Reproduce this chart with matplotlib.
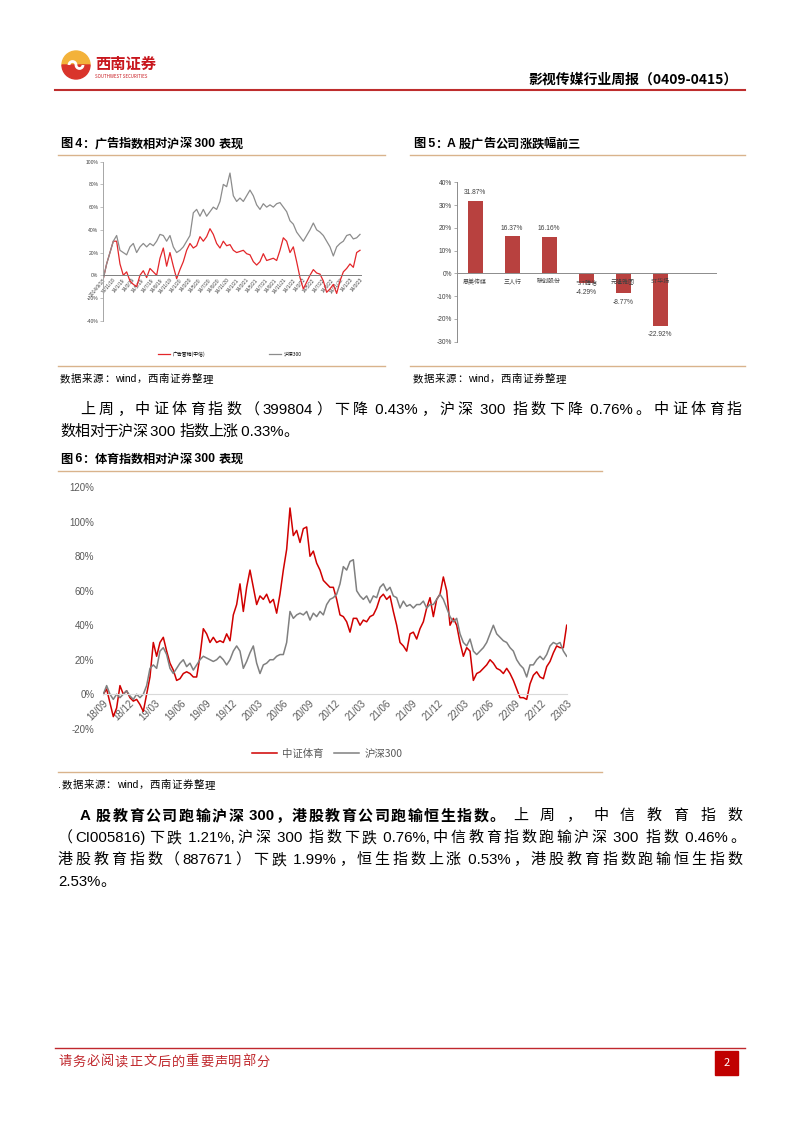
import numpy as np
import matplotlib
matplotlib.use('Agg')
import matplotlib.pyplot as plt
from matplotlib.patches import Wedge, Arc, Rectangle

plt.rcParams['font.family'] = ['Noto Sans CJK SC', 'DejaVu Sans']
plt.rcParams['axes.unicode_minus'] = False

W, H = 802, 1133

# ---- figure 4 : ad index vs CSI300 (values in %)
ad_index = [-3, 10, 20, 30, 30, 10, 0, 3, -5, -8,
            -10, 0, 4, -2, 6, 3, 0, 15, 24, 8,
            20, 8, -3, 5, 12, 22, 28, 24, 26, 34,
            30, 34, 41, 36, 28, 24, 30, 26, 27, 22,
            20, 21, 22, 19, 18, 12, 9, 12, 19, 13,
            14, 15, 13, 22, 33, 30, 20, 25, 12, -2,
            -12, -6, 0, 5, 2, 1, -5, -15, -12, -8,
            -16, -5, 3, 6, 10, 7, 20, 22]
hs300_4 = [-3, 10, 20, 30, 35, 22, 20, 18, 25, 28,
           20, 25, 28, 25, 28, 26, 30, 36, 35, 30,
           35, 25, 20, 22, 25, 30, 35, 55, 58, 52,
           58, 52, 56, 60, 58, 65, 80, 78, 90, 70,
           65, 68, 65, 70, 75, 70, 62, 58, 63, 60,
           62, 60, 63, 64, 60, 56, 48, 45, 38, 34,
           30, 35, 40, 46, 40, 38, 35, 30, 25, 17,
           25, 28, 30, 35, 36, 32, 33, 36]
ad_ticks = ['2014/9/18', '14/11/18', '14/1/19', '14/3/19', '14/5/19', '14/7/19',
            '14/9/19', '14/11/19', '14/1/20', '14/3/20', '14/5/20', '14/7/20',
            '14/9/20', '14/11/20', '14/1/21', '14/3/21', '14/5/21', '14/7/21',
            '14/9/21', '14/11/21', '14/1/22', '14/3/22', '14/5/22', '14/7/22',
            '14/9/22', '14/11/22', '14/1/23', '14/3/23']

# ---- figure 5 : top/bottom ad companies
companies = ['思美传媒', '三人行', '联创股份', '*ST腾信', '元隆雅图', 'ST华扬']
changes = [31.87, 16.37, 16.16, -4.29, -8.77, -22.92]

# ---- figure 6 : sports index vs CSI300 (values in %)
sports = [0, 3, -5, -13, -8, 5, 0, 2, -2, -4,
          -3, -6, -10, 0, 10, 30, 22, 30, 33, 25,
          18, 14, 8, 9, 12, 13, 12, 10, 10, 22,
          38, 35, 30, 33, 30, 31, 30, 35, 31, 46,
          52, 64, 48, 62, 72, 62, 52, 57, 55, 58,
          53, 55, 47, 58, 72, 84, 108, 92, 95, 88,
          96, 97, 80, 83, 76, 72, 66, 64, 62, 62,
          55, 46, 45, 42, 36, 44,
          44, 40, 43, 42, 45, 46, 50, 56, 58, 55,
          57, 48, 40, 30, 28, 25, 35, 36, 32, 38,
          42, 50, 56, 45, 55, 58, 68, 60, 40, 44,
          40, 30, 22, 27, 25, 8, 12, 13, 15, 17,
          20, 18, 15, 14, 12, 15, 12, 8, 3, -2,
          -2, -3, 6, 11, 13, 10, 9, 16, 19, 24,
          28, 27, 27, 40]
hs300_6 = [0, 5, 0, -3, 0, -2, 0, 2, -1, -3,
           0, -2, 0, 5, 15, 17, 15, 25, 27, 23,
           15, 12, 15, 18, 20, 16, 18, 14, 17, 20,
           22, 21, 20, 19, 20, 22, 20, 17, 20, 25,
           28, 25, 15, 19, 24, 28, 18, 12, 17, 18,
           20, 20, 22, 23, 23, 30, 48, 44, 46, 47,
           46, 48, 43, 47, 45, 48, 46, 52, 55, 56,
           58, 64, 74, 72, 77, 78,
           60, 57, 55, 57, 53, 57, 56, 62, 64, 60,
           62, 57, 56, 50, 54, 51, 52, 50, 52, 52,
           54, 50, 52, 52, 55, 58, 55, 50, 45, 42,
           44, 35, 30, 28, 32, 25, 23, 25, 27, 30,
           35, 40, 35, 33, 31, 30, 27, 25, 20, 17,
           15, 10, 17, 17, 20, 22, 20, 23, 28, 30,
           29, 30, 25, 22]
quarters = ['18/09', '18/12', '19/03', '19/06', '19/09', '19/12', '20/03',
            '20/06', '20/09', '20/12', '21/03', '21/06', '21/09', '21/12',
            '22/03', '22/06', '22/09', '22/12', '23/03']

fig = plt.figure(figsize=(W / 100, H / 100), dpi=100)
page = fig.add_axes([0, 0, 1, 1])
page.set_xlim(0, W)
page.set_ylim(H, 0)
page.axis('off')
renderer = fig.canvas.get_renderer()

LATIN = ['Liberation Sans', 'DejaVu Sans']
CJK = ['Noto Sans CJK SC', 'DejaVu Sans']
BODY = 10.8


def box(x0, y0, x1, y1):
    a = fig.add_axes([x0 / W, 1 - y1 / H, (x1 - x0) / W, (y1 - y0) / H])
    a.patch.set_alpha(0)
    return a


def tokens(s):
    # ascii runs (with their spaces) stay together, every CJK char is its own token
    out, buf = [], ''
    for c in s:
        if c.isascii():
            buf += c
        else:
            if buf:
                out.append(buf)
                buf = ''
            out.append(c)
    if buf:
        out.append(buf)
    return out


def put_line(text, x0, y, size, x1=None, gap=0.0, weight='normal', color='black'):
    items = []
    for tk in tokens(text):
        fam = LATIN if tk.isascii() else CJK
        items.append(page.text(0, y, tk, fontsize=size, fontweight=weight,
                               family=fam, color=color, ha='left', va='center'))
    widths = [t.get_window_extent(renderer).width for t in items]
    if x1 is not None and len(items) > 1:
        gap = (x1 - x0 - sum(widths)) / (len(items) - 1)
    x = x0
    for t, w in zip(items, widths):
        t.set_x(x)
        x += w + gap
    return x - gap


# ---- header
page.add_patch(Wedge((76, 65), 14, 180, 360, color='#F3B23A'))
page.add_patch(Wedge((76, 65), 14, 0, 180, color='#D9342B'))
page.add_patch(Arc((72.5, 65), 7, 7, theta1=180, theta2=360, color='white', lw=2))
page.add_patch(Arc((79.5, 65), 7, 7, theta1=0, theta2=180, color='white', lw=2))
page.text(95, 64, '西南证券', fontsize=11, fontweight='bold', color='#C8161D', va='center')
page.text(95, 76, 'SOUTHWEST SECURITIES', fontsize=3.2, color='#C8161D', va='center')
page.text(738, 80, '影视传媒行业周报（0409-0415）', fontsize=10, fontweight='bold',
          ha='right', va='center')
page.plot([55, 745], [89.5, 89.5], color='#BE2D2D', lw=1.5)

tan = '#D9B38C'
for xa, xb in [(58, 385), (410, 745)]:
    page.plot([xa, xb], [155, 155], color=tan, lw=1)
    page.plot([xa, xb], [366, 366], color=tan, lw=1)
page.plot([58, 602], [471, 471], color=tan, lw=1)
page.plot([58, 602], [772, 772], color=tan, lw=1)

put_line('图 4：广告指数相对沪深 300 表现', 60, 144, 8.8, x1=243, weight='bold')
put_line('图 5：A 股广告公司涨跌幅前三', 413, 144, 8.8, x1=580, weight='bold')
put_line('数据来源：wind，西南证券整理', 60, 379, 7.5, x1=213)
put_line('数据来源：wind，西南证券整理', 413, 379, 7.5, x1=566)

put_line('上周，中证体育指数（399804）下降 0.43%，沪深 300 指数下降 0.76%。中证体育指',
         80, 410, BODY, x1=742)
put_line('数相对于沪深 300 指数上涨 0.33%。', 60, 432, BODY, x1=298)

put_line('图 6：体育指数相对沪深 300 表现', 60, 459, 8.8, x1=243, weight='bold')
put_line('.数据来源：wind，西南证券整理', 58, 785, 7.5, x1=215)

end = put_line('A 股教育公司跑输沪深 300，港股教育公司跑输恒生指数。', 80, 816, BODY,
               x1=505, weight='bold')
put_line('上周，中信教育指数', end + 8, 816, BODY, x1=742)
put_line('（CI005816)下跌 1.21%,沪深 300 指数下跌 0.76%,中信教育指数跑输沪深 300 指数 0.46%。',
         58, 838, BODY, x1=745)
put_line('港股教育指数（887671）下跌 1.99%，恒生指数上涨 0.53%，港股教育指数跑输恒生指数',
         58, 860, BODY, x1=742)
put_line('2.53%。', 58, 882, BODY)

# ---- footer
page.plot([55, 745], [1048, 1048], color='#C0282D', lw=1)
put_line('请务必阅读正文后的重要声明部分', 58, 1062, 9.5, x1=270, color='#C0282D')
page.add_patch(Rectangle((715, 1051), 23, 24, color='#C00000'))
page.text(726.5, 1063, '2', fontsize=8, color='white', ha='center', va='center')

# ---- chart 4
ax4 = box(103.3, 161.7, 361, 320.7)
for s in ['top', 'right']:
    ax4.spines[s].set_visible(False)
ax4.spines['bottom'].set_position(('data', 0))
x4 = np.arange(len(ad_index))
ax4.plot(x4, ad_index, color='#E3262A', lw=0.9, label='广告营销(中信)')
ax4.plot(x4, hs300_4, color='#8C8C8C', lw=0.9, label='沪深300')
ax4.set_xlim(0, len(ad_index) - 1 + 0.3)
ax4.set_ylim(-40, 100)
yt4 = list(range(-40, 101, 20))
ax4.set_yticks(yt4)
ax4.set_yticklabels([f'{v}%' for v in yt4], family=LATIN)
ax4.set_xticks(np.linspace(0, len(ad_index) - 1, len(ad_ticks)))
ax4.set_xticklabels(ad_ticks, rotation=50, ha='right', rotation_mode='anchor', family=LATIN)
ax4.spines['bottom'].set_color('#7F7F7F')
ax4.spines['bottom'].set_linewidth(0.7)
ax4.spines['left'].set_color('#A6A6A6')
ax4.spines['left'].set_linewidth(0.7)
ax4.tick_params(axis='y', length=2, width=0.5, color='#A6A6A6', labelsize=3.6,
                labelcolor='#404040', pad=1.5)
ax4.tick_params(axis='x', length=0, labelsize=3.5, labelcolor='#404040', pad=1.5)
ax4.legend(loc='center left', bbox_to_anchor=(158 / W, 1 - 354 / H),
           bbox_transform=fig.transFigure, ncol=2, frameon=False, fontsize=3.5,
           handlelength=2.5, columnspacing=13, borderaxespad=0, borderpad=0,
           handletextpad=0.6)

# ---- chart 5
ax5 = box(456.7, 182.3, 715.7, 341.7)
for s in ['top', 'right']:
    ax5.spines[s].set_visible(False)
ax5.spines['bottom'].set_position(('data', 0))
xs = np.arange(len(companies))
ax5.bar(xs, changes, width=0.4, color='#B8413F')
ax5.set_xlim(-0.5, 6.5)
ax5.set_ylim(-30, 40)
yt5 = list(range(-30, 41, 10))
ax5.set_yticks(yt5)
ax5.set_yticklabels([f'{v}%' for v in yt5], family=LATIN)
ax5.set_xticks(xs)
ax5.set_xticklabels(companies)
ax5.spines['bottom'].set_color('#8C8C8C')
ax5.spines['bottom'].set_linewidth(0.7)
ax5.spines['left'].set_color('#8C8C8C')
ax5.spines['left'].set_linewidth(0.7)
ax5.tick_params(axis='y', length=2, width=0.5, color='#8C8C8C', labelsize=4.8,
                labelcolor='#404040', pad=1.5)
ax5.tick_params(axis='x', length=0, labelsize=4.3, labelcolor='#404040', pad=4)
for x, v in zip(xs, changes):
    ax5.annotate(f'{v:.2f}%', (x, v), xytext=(0, 5.8 if v > 0 else -6.5),
                 textcoords='offset points', ha='center', va='center',
                 fontsize=4.8, color='#404040', family=LATIN)

# ---- chart 6
ax6 = box(103.3, 487.3, 566.7, 728.7)
for s in ['top', 'right', 'left']:
    ax6.spines[s].set_visible(False)
ax6.spines['bottom'].set_position(('data', 0))
x6 = np.arange(len(sports))
ax6.plot(x6, sports, color='#D00000', lw=1.1, label='中证体育')
ax6.plot(x6, hs300_6, color='#808080', lw=1.1, label='沪深300')
ax6.set_xlim(0, len(sports) - 1)
ax6.set_ylim(-20, 120)
yt6 = list(range(-20, 121, 20))
ax6.set_yticks(yt6)
ax6.set_yticklabels([f'{v}%' for v in yt6], family=LATIN)
ax6.set_xticks(np.linspace(0, len(sports) - 1, len(quarters)))
ax6.set_xticklabels(quarters, rotation=45, ha='right', rotation_mode='anchor', family=LATIN)
ax6.spines['bottom'].set_color('#D9D9D9')
ax6.spines['bottom'].set_linewidth(0.8)
ax6.tick_params(axis='y', length=0, labelsize=7, labelcolor='#595959', pad=6.5)
ax6.tick_params(axis='x', length=0, labelsize=7, labelcolor='#595959', pad=3)
ax6.legend(loc='center left', bbox_to_anchor=(252 / W, 1 - 754 / H),
           bbox_transform=fig.transFigure, ncol=2, frameon=False, fontsize=7.5,
           handlelength=2.4, columnspacing=1.0, borderaxespad=0, borderpad=0,
           handletextpad=0.5, labelcolor='#595959')

fig.savefig('out.png', dpi=100)
